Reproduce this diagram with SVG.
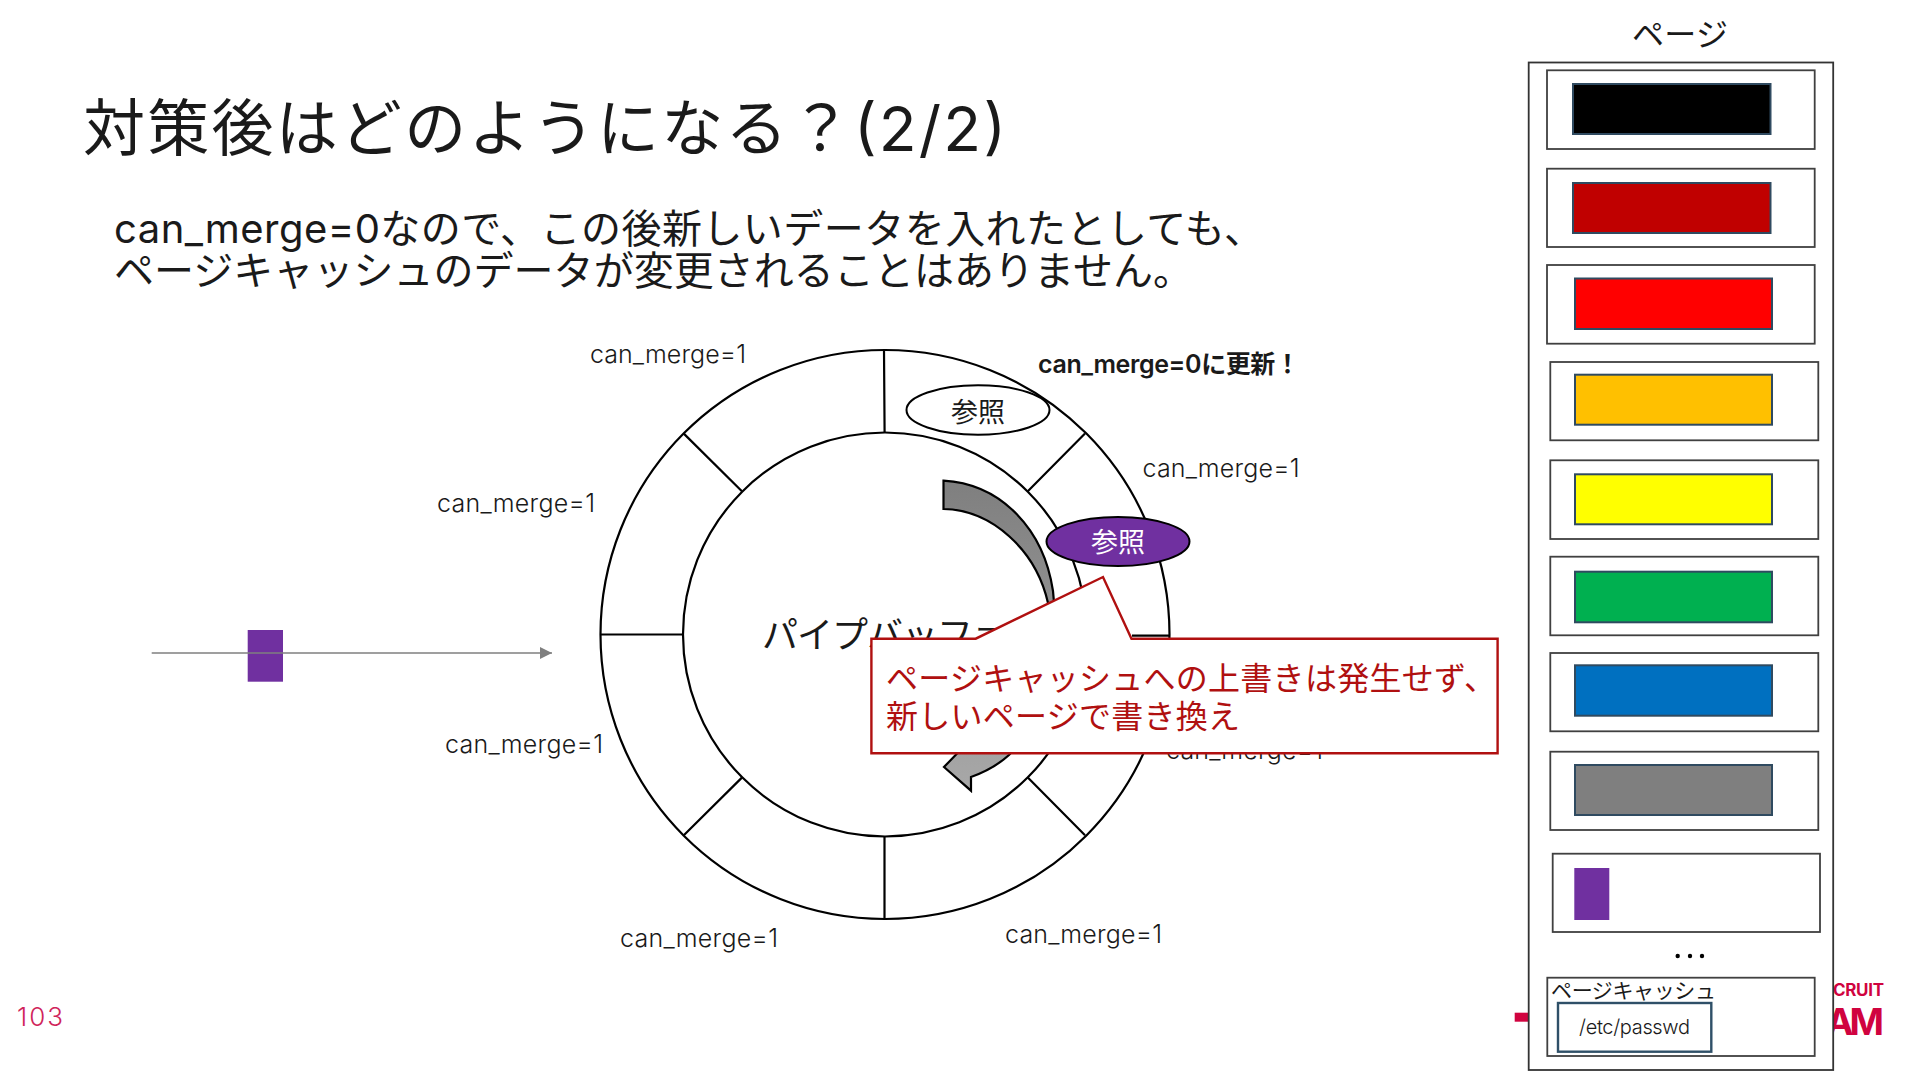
<svg xmlns="http://www.w3.org/2000/svg" width="1920" height="1080" viewBox="0 0 1920 1080">
<style>
text{font-family:Inter,"Noto Sans CJK JP","Noto Sans",sans-serif;fill:#1a1a1a;font-weight:300}
.lbl{font-size:25px}
.ring{fill:none;stroke:#000;stroke-width:2.2}
.frame{fill:#fff;stroke:#404040;stroke-width:1.8}
.page{stroke:#2f4a60;stroke-width:2}
.jp{font-size:27px;text-anchor:middle;font-weight:400}
.brand{fill:#d0033f;font-weight:700}
.red{fill:#b01010;font-size:32px;font-weight:400}
.sub{font-size:40px;font-weight:400}
</style>
<defs>
<linearGradient id="arrowFill" x1="0" y1="0" x2="0" y2="1"><stop offset="0" stop-color="#7f7f7f"/><stop offset="1" stop-color="#a8a8a8"/></linearGradient>
<marker id="head" markerUnits="userSpaceOnUse" markerWidth="13" markerHeight="13" refX="12" refY="6" orient="auto"><path d="M0,0L12,6L0,12Z" fill="#7f7f7f"/></marker>
</defs>
<rect width="1920" height="1080" fill="#fff"/>
<g id="title">
<text x="83" y="151" font-size="62" textLength="923" style="font-weight:400">対策後はどのようになる？(2/2)</text>
<text class="sub" x="114" y="243" textLength="1150">can_merge=0なので、この後新しいデータを入れたとしても、</text>
<text class="sub" x="114" y="285" textLength="1079">ページキャッシュのデータが変更されることはありません。</text>
</g>
<g id="logo">
<rect x="1514.7" y="1012.7" width="20" height="9" fill="#d0033f"/>
<text class="brand" x="1833" y="996" font-size="17" textLength="51">CRUIT</text>
<text class="brand" x="1826" y="1035" font-size="37" textLength="58">AM</text>
</g>
<g id="page-number"><text x="17" y="1026" font-size="26" style="fill:#d0245a" textLength="46">103</text></g>
<g id="pipe-ring">
<circle class="ring" cx="885" cy="634.5" r="284.5"/>
<circle class="ring" cx="885" cy="634.5" r="202"/>
<path class="ring" d="M884,350L884.6,433M884.5,836V918.5M600,634.5H682.6M1132,635.6H1169M683.8,433.6L741.9,491.3M1085,433.6L1027.8,491.3M683.8,835.3L741.9,777.6M1085,835.3L1027.8,777.6"/>
</g>
<g id="pipe-label"><text x="762" y="648" font-size="36" textLength="246" style="font-weight:400">パイプバッファ</text></g>
<g id="circular-arrow">
<path d="M943.5,480.6C1002,484 1044,530 1053,591C1060,650 1040,725 1009,755C998,765 985,772 971,777V790.7L944,767L975,735C1020,700 1052,660 1048,603C1036,550 992,510 943.5,509Z" fill="url(#arrowFill)" stroke="#000" stroke-width="2.2"/>
</g>
<g id="label-1"><text class="lbl" x="590" y="363" textLength="156">can_merge=1</text></g>
<g id="label-2"><text class="lbl" x="1038" y="373" font-size="24" textLength="262" style="font-weight:600">can_merge=0に更新！</text></g>
<g id="label-3"><text class="lbl" x="1142.5" y="477" textLength="157">can_merge=1</text></g>
<g id="label-4"><text class="lbl" x="437" y="512" textLength="158">can_merge=1</text></g>
<g id="label-5"><text class="lbl" x="445" y="753" textLength="158">can_merge=1</text></g>
<g id="label-6"><text class="lbl" x="620" y="947" textLength="158">can_merge=1</text></g>
<g id="label-7"><text class="lbl" x="1005" y="943" textLength="157">can_merge=1</text></g>
<g id="label-8"><text class="lbl" x="1166" y="759" textLength="157">can_merge=1</text></g>
<g id="ref-white">
<ellipse cx="978" cy="410" rx="71.5" ry="24.7" fill="#fff" stroke="#000" stroke-width="2"/>
<text class="jp" x="978" y="422">参照</text>
</g>
<g id="ref-purple">
<ellipse cx="1118" cy="541.5" rx="71.5" ry="24.5" fill="#7030a0" stroke="#000" stroke-width="2"/>
<text class="jp" x="1118" y="552" style="fill:#fff">参照</text>
</g>
<g id="callout">
<path d="M871.4,638.7H975.7L1103,577L1131.5,638.7H1497.6V753.3H871.4Z" fill="#fff" stroke="#b01010" stroke-width="2.4"/>
<text class="red" x="886" y="690" textLength="610">ページキャッシュへの上書きは発生せず、</text>
<text class="red" x="886" y="728" textLength="354">新しいページで書き換え</text>
</g>
<g id="page-group">
<text x="1632" y="46" font-size="32" textLength="96" style="font-weight:400">ページ</text>
<rect x="1528.7" y="62.5" width="304.5" height="1007.5" fill="#fff" stroke="#333" stroke-width="1.8"/>
</g>
<g id="page-1"><rect class="frame" x="1547" y="70.3" width="267.7" height="78.7"/><rect class="page" x="1573" y="84" width="197.5" height="50" fill="#000"/></g>
<g id="page-2"><rect class="frame" x="1547" y="168.7" width="267.7" height="78.3"/><rect class="page" x="1573" y="183" width="197.5" height="50" fill="#c00000"/></g>
<g id="page-3"><rect class="frame" x="1547" y="265" width="267.7" height="78.7"/><rect class="page" x="1575" y="278.5" width="197" height="50.5" fill="#ff0000"/></g>
<g id="page-4"><rect class="frame" x="1550.3" y="362" width="268" height="78.3"/><rect class="page" x="1575" y="374.7" width="197" height="50" fill="#ffc000"/></g>
<g id="page-5"><rect class="frame" x="1550.3" y="460.3" width="268" height="78.7"/><rect class="page" x="1575" y="474.3" width="197" height="50" fill="#ffff00"/></g>
<g id="page-6"><rect class="frame" x="1550.3" y="556.7" width="268" height="78.6"/><rect class="page" x="1575" y="571.7" width="197" height="50.6" fill="#00b050"/></g>
<g id="page-7"><rect class="frame" x="1550.3" y="653" width="268" height="78.3"/><rect class="page" x="1575" y="665.3" width="197" height="50.4" fill="#0070c0"/></g>
<g id="page-8"><rect class="frame" x="1550.3" y="751.7" width="268" height="78.3"/><rect class="page" x="1575" y="765" width="197" height="50" fill="#7f7f7f"/></g>
<g id="page-9"><rect class="frame" x="1552.7" y="853.7" width="267.3" height="78.3"/><rect x="1574.3" y="868" width="35" height="52" fill="#7030a0"/></g>
<g id="dots" fill="#000"><circle cx="1677.7" cy="956" r="2.2"/><circle cx="1690" cy="956" r="2.2"/><circle cx="1702" cy="956" r="2.2"/></g>
<g id="page-cache">
<rect class="frame" x="1547.3" y="977.7" width="267.4" height="78.3"/>
<text x="1551" y="998" font-size="21" textLength="165" style="font-weight:400">ページキャッシュ</text>
<rect x="1558" y="1003" width="153.3" height="48.7" fill="#fff" stroke="#2f5068" stroke-width="2.4"/>
<text x="1579" y="1034" font-size="20" textLength="111">/etc/passwd</text>
</g>
<g id="data-block"><rect x="247.7" y="630" width="35.3" height="51.7" fill="#7030a0"/></g>
<g id="connectors"><line x1="151.7" y1="653" x2="552" y2="653" stroke="#7f7f7f" stroke-width="1.5" marker-end="url(#head)"/></g>
</svg>
